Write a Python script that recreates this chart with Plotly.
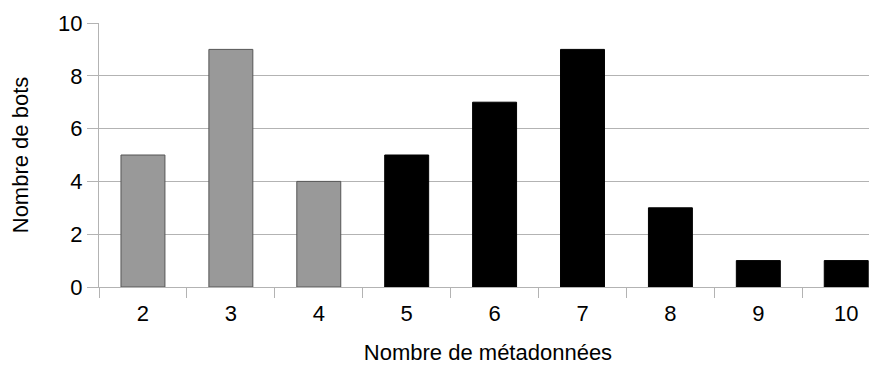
import plotly.graph_objects as go

categories = ["2", "3", "4", "5", "6", "7", "8", "9", "10"]
values = [5, 9, 4, 5, 7, 9, 3, 1, 1]
groups = ["gris", "gris", "gris", "noir", "noir", "noir", "noir", "noir", "noir"]

x_title = "Nombre de métadonnées"
y_title = "Nombre de bots"
y_ticks = [0, 2, 4, 6, 8, 10]

fill = {"gris": "#999999", "noir": "#000000"}
edge = {"gris": "#555555", "noir": "#000000"}

fig = go.Figure()
fig.add_trace(go.Bar(
    x=categories,
    y=values,
    width=0.5,
    marker=dict(
        color=[fill[g] for g in groups],
        line=dict(color=[edge[g] for g in groups], width=1),
    ),
    showlegend=False,
))

grid = "#b3b3b3"
font = "Liberation Sans, Arial, sans-serif"

fig.update_layout(
    width=869,
    height=357,
    margin=dict(l=91, r=0, t=15, b=78),
    paper_bgcolor="white",
    plot_bgcolor="white",
    font=dict(family=font, color="black", size=22),
    bargap=0.5,
    xaxis=dict(
        type="category",
        categoryorder="array",
        categoryarray=categories,
        range=[-0.5, 8.35],
        showgrid=False,
        showline=True,
        linecolor=grid,
        linewidth=1,
        ticks="outside",
        tickson="boundaries",
        ticklen=10,
        tickcolor=grid,
        tickfont=dict(size=22),
        ticklabelstandoff=7,
        title=dict(text=x_title, font=dict(size=22), standoff=20),
    ),
    yaxis=dict(
        range=[0, 10],
        tickvals=y_ticks,
        showgrid=True,
        gridcolor=grid,
        gridwidth=1,
        showline=True,
        linecolor=grid,
        linewidth=1,
        ticks="outside",
        ticklen=11,
        tickcolor=grid,
        tickfont=dict(size=22),
        zeroline=False,
        title=dict(text=y_title, font=dict(size=22), standoff=26),
    ),
)

fig.write_html("out.html")
